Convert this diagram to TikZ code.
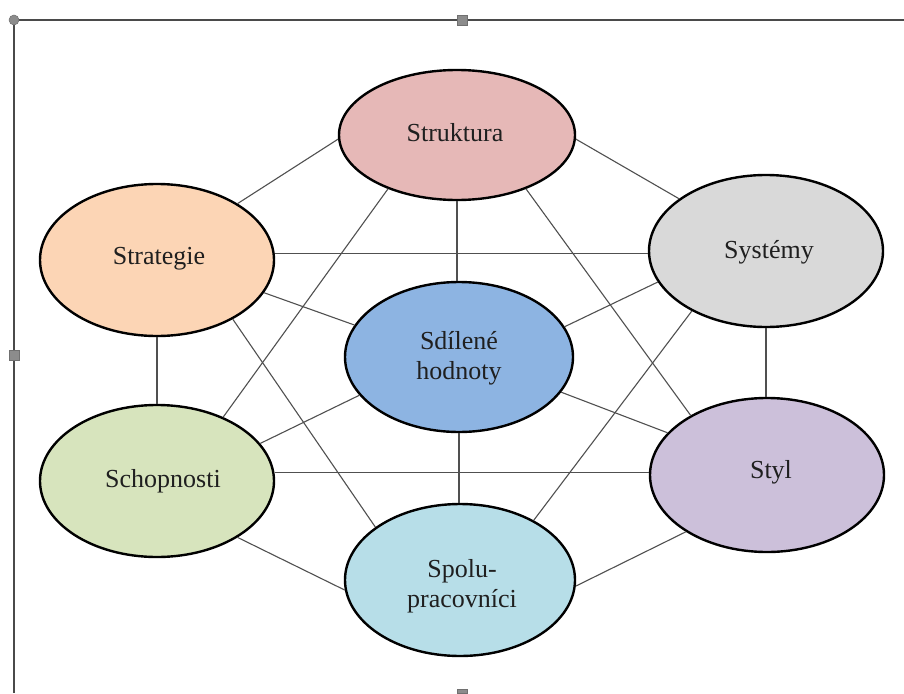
\documentclass[tikz,border=0pt]{standalone}
\usepackage{fontspec}
\setmainfont{Liberation Serif}
\usetikzlibrary{shapes.geometric}
\definecolor{cStruk}{HTML}{E6B8B7}
\definecolor{cStrat}{HTML}{FCD5B5}
\definecolor{cSys}{HTML}{D9D9D9}
\definecolor{cSdil}{HTML}{8DB4E2}
\definecolor{cSchop}{HTML}{D7E4BD}
\definecolor{cStyl}{HTML}{CCC0DA}
\definecolor{cSpolu}{HTML}{B7DEE8}
\definecolor{linegray}{HTML}{505050}
\definecolor{framegray}{HTML}{4A4A4A}
\definecolor{handlegray}{HTML}{8C8C8C}
\begin{document}
\begin{tikzpicture}[x=1pt,y=-1pt,
  blob/.style={ellipse, draw=black, line width=2.4pt, inner sep=0pt,
    font=\fontsize{26}{30}\selectfont, align=center, text=black!88},
  link/.style={draw=linegray, line width=1.1pt},
  framestyle/.style={draw=framegray, line width=2pt},
  handle/.style={fill=handlegray, draw=handlegray!80!black, line width=0.5pt}]
\useasboundingbox (0,0) rectangle (904,693);
\fill[white] (0,0) rectangle (904,693);
% frame
\draw[framestyle] (14,20) -- (904,20);
\draw[framestyle] (14,20) -- (14,693);
\filldraw[handle] (14,20) circle (5);
\filldraw[handle] (457,15) rectangle (467,25);
\filldraw[handle] (9,350) rectangle (19,360);
\filldraw[handle] (457,689) rectangle (467,693);
% nodes
\path
 (457,135) node[blob, fill=cStruk, minimum width=236pt, minimum height=130pt] (struk) {}
 (157,260) node[blob, fill=cStrat, minimum width=234pt, minimum height=152pt] (strat) {}
 (766,251) node[blob, fill=cSys, minimum width=234pt, minimum height=152pt] (sys) {}
 (459,357) node[blob, fill=cSdil, minimum width=228pt, minimum height=150pt] (sdil) {}
 (157,481) node[blob, fill=cSchop, minimum width=234pt, minimum height=152pt] (schop) {}
 (767,475) node[blob, fill=cStyl, minimum width=234pt, minimum height=154pt] (styl) {}
 (460,580) node[blob, fill=cSpolu, minimum width=230pt, minimum height=152pt] (spolu) {};
% connectors
\draw[link] (strat.35) -- (struk.182);
\draw[link] (struk.358) -- (sys.149);
\draw[link] (sdil.north -| struk.south) -- (struk.south);
\draw[link] (struk.218) -- (schop.44);
\draw[link] (struk.322) -- (styl.142);
\draw[link] (strat.3) -- (strat.3 -| sys.west);
\draw[link] (strat.343) -- (sdil.163);
\draw[link] (strat.south) -- (schop.north);
\draw[link] (strat.322) -- (spolu.148);
\draw[link] (sys.196) -- (sdil.16);
\draw[link] (sys.south) -- (sys.south |- styl.north);
\draw[link] (sys.219) -- (spolu.39);
\draw[link] (sdil.201) -- (schop.20);
\draw[link] (sdil.341) -- (styl.157);
\draw[link] (sdil.south) -- (sdil.south |- spolu.north);
\draw[link] (schop.4) -- (schop.4 -| styl.west);
\draw[link] (schop.325) -- (spolu.185);
\draw[link] (styl.215) -- (spolu.357);
% labels
\node[blob, draw=none, fill=none] (tstruk) at (455,133) {Struktura};
\node[blob, draw=none, fill=none] (tstrat) at (159,259) {Strategie};
\node[blob, draw=none, fill=none] (tsys) at (769,252) {Systémy};
\node[blob, draw=none, fill=none] (tsdil) at (459,358) {Sdílené\\hodnoty};
\node[blob, draw=none, fill=none] (tschop) at (163,481) {Schopnosti};
\node[blob, draw=none, fill=none] (tstyl) at (771,472) {Styl};
\node[blob, draw=none, fill=none] (tspolu) at (462,586) {Spolu-\\pracovníci};
\end{tikzpicture}
\end{document}
